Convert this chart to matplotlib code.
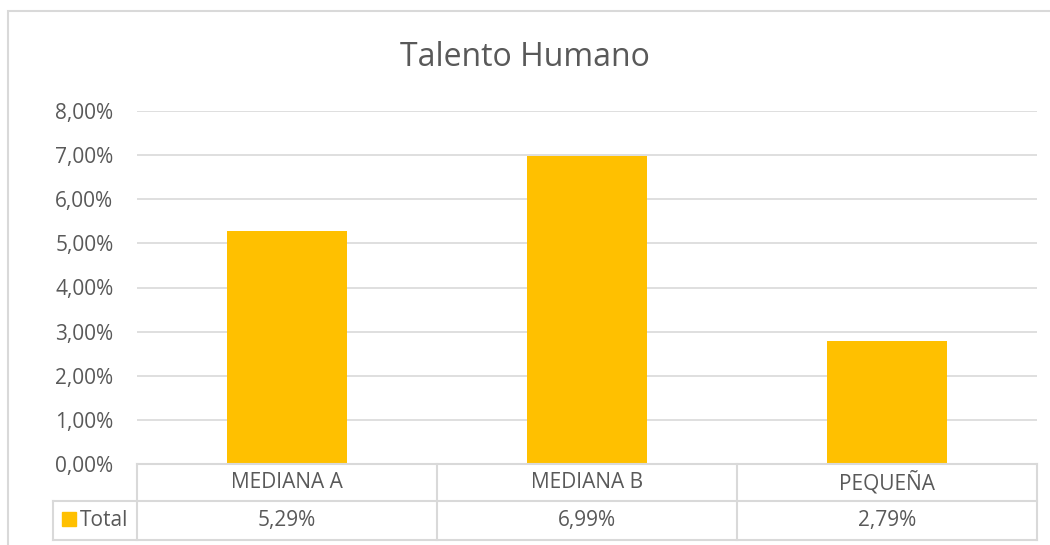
import matplotlib.pyplot as plt
import matplotlib.patches as mpatches
import numpy as np

categories = ['MEDIANA A', 'MEDIANA B', 'PEQUEÑA']
values = [0.0529, 0.0699, 0.0279]
series_name = 'Total'
title = 'Talento Humano'

plt.rcParams['font.family'] = ['Open Sans', 'DejaVu Sans']

W, H = 1050, 545
bar_color = '#FFC000'
grid_color = '#D9D9D9'
text_color = '#595959'
fs = 15


def fx(px):
    return px / W


def fy(py):
    return 1 - py / H


fig = plt.figure(figsize=(10.5, 5.45), dpi=100)

# outer chart border (cut at right and bottom like the screenshot)
fig.add_artist(mpatches.Rectangle((fx(8), fy(560)), fx(1060) - fx(8), fy(11) - fy(560),
                                  transform=fig.transFigure, fill=False,
                                  edgecolor=grid_color, linewidth=1.5))

left, right, top, bottom = 137, 1037, 111, 464
ax = fig.add_axes([fx(left), fy(bottom), fx(right) - fx(left), fy(top) - fy(bottom)])
x = np.arange(len(categories))
ax.bar(x, values, width=0.4, color=bar_color, zorder=3)
ax.set_xlim(-0.5, len(categories) - 0.5)
ax.set_ylim(0, 0.08)
ticks = np.arange(0, 0.081, 0.01)
ax.set_yticks(ticks)
ax.set_yticklabels([f'{t * 100:.2f}%'.replace('.', ',') for t in ticks],
                   fontsize=fs, color=text_color)
ax.tick_params(axis='y', length=0, pad=17)
ax.set_xticks([])
ax.yaxis.grid(True, color=grid_color, linewidth=1.2, zorder=0)
for s in ax.spines.values():
    s.set_visible(False)

fig.text(0.5, fy(57), title, ha='center', va='center', fontsize=23, color=text_color)

# data table under the plot
row1_bot, row2_bot = 501, 540
col_w = (right - left) / len(categories)
lw = 1.5
# horizontal lines
fig.add_artist(plt.Line2D([fx(left), fx(right)], [fy(bottom), fy(bottom)], color=grid_color, lw=lw))
fig.add_artist(plt.Line2D([fx(53), fx(right)], [fy(row1_bot), fy(row1_bot)], color=grid_color, lw=lw))
fig.add_artist(plt.Line2D([fx(53), fx(right)], [fy(row2_bot), fy(row2_bot)], color=grid_color, lw=lw))
# vertical lines
fig.add_artist(plt.Line2D([fx(53), fx(53)], [fy(row1_bot), fy(row2_bot)], color=grid_color, lw=lw))
for i in range(len(categories) + 1):
    xx = left + i * col_w
    fig.add_artist(plt.Line2D([fx(xx), fx(xx)], [fy(bottom), fy(row2_bot)], color=grid_color, lw=lw))

for i, (cat, val) in enumerate(zip(categories, values)):
    cx = left + (i + 0.5) * col_w
    fig.text(fx(cx), fy((bottom + row1_bot) / 2), cat, ha='center', va='center',
             fontsize=fs, color=text_color)
    fig.text(fx(cx), fy((row1_bot + row2_bot) / 2), f'{val * 100:.2f}%'.replace('.', ','),
             ha='center', va='center', fontsize=fs, color=text_color)

# legend key in table
fig.add_artist(mpatches.Rectangle((fx(62), fy(526)), fx(14), fy(512) - fy(526),
                                  transform=fig.transFigure, color=bar_color))
fig.text(fx(80), fy((row1_bot + row2_bot) / 2), series_name, ha='left', va='center',
         fontsize=fs, color=text_color)

fig.savefig('out.png', dpi=100)
